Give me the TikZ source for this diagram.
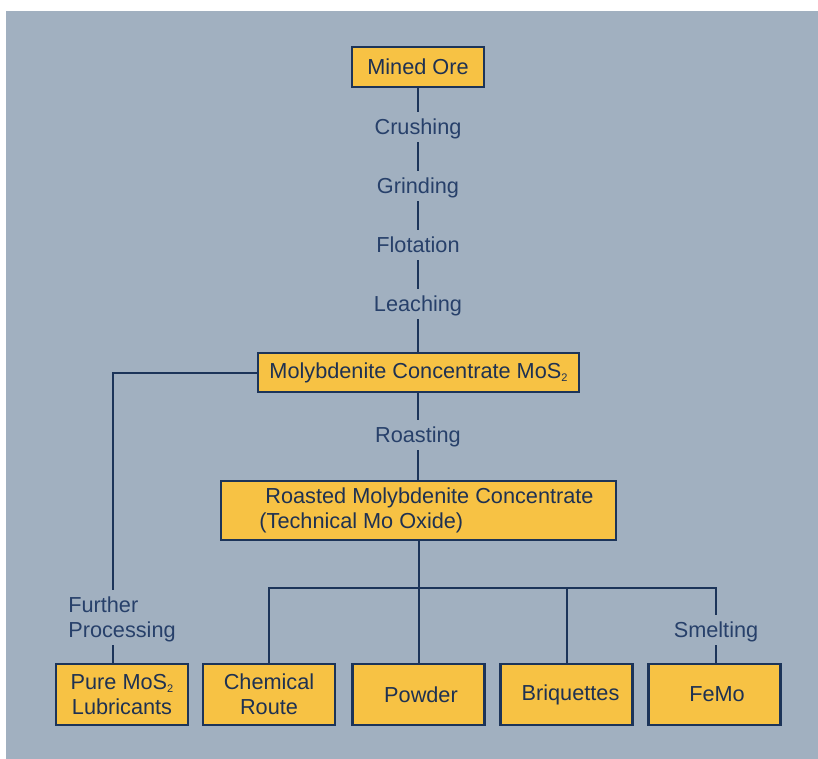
\documentclass[tikz,border=0pt]{standalone}
\usepackage{fontspec}
\setmainfont{Liberation Sans}
\definecolor{bgblue}{HTML}{A1B0C0}
\definecolor{boxyellow}{HTML}{F7C244}
\definecolor{navy}{HTML}{1C3459}
\definecolor{navytext}{HTML}{1E3152}
\definecolor{labtext}{HTML}{27406A}
\newcommand\dfont{\fontsize{21.7}{25}\selectfont}
\newcommand\subtwo{\raisebox{-3.5pt}{\fontsize{11}{11}\selectfont 2}}
\begin{document}
\begin{tikzpicture}[x=1pt,y=-1pt,
  box/.style={draw=navy, line width=2.2pt, fill=boxyellow, text=navytext, font=\dfont, inner sep=0pt, align=center},
  lab/.style={text=labtext, font=\dfont, inner xsep=2pt, inner ysep=5pt, text height=17.5pt, text depth=2.5pt},
  link/.style={draw=navy, line width=2pt}]
\useasboundingbox (0,0) rectangle (818,759);
\fill[bgblue] (6,11) rectangle (818,759);

% boxes
\node[box, minimum width=132pt, minimum height=40pt] (ore) at (418,67) {Mined Ore};
\node[box, minimum width=321pt, minimum height=39pt] (conc) at (418.5,372.5) {Molybdenite Concentrate MoS\subtwo};
\node[box, minimum width=395pt, minimum height=59pt, align=left] (roast) at (418.5,510.5)
  {\hspace*{22pt}Roasted Molybdenite Concentrate\\\hspace*{16pt}(Technical Mo Oxide)};
\node[box, minimum width=132pt, minimum height=61pt] (pure) at (122,694.5) {Pure MoS\subtwo\\Lubricants};
\node[box, minimum width=132pt, minimum height=61pt] (chem) at (269,694.5) {Chemical\\Route};
\node[box, minimum width=132pt, minimum height=61pt] (powder) at (418.5,694.5) {\hspace*{5pt}Powder};
\node[box, minimum width=132pt, minimum height=61pt] (briq) at (566.5,694.5) {\hspace*{8pt}Briquettes};
\node[box, minimum width=132pt, minimum height=61pt] (femo) at (714.5,694.5) {\hspace*{5pt}FeMo};

% step labels
\node[lab] (crush) at (418,127) {Crushing};
\node[lab] (grind) at (418,186) {Grinding};
\node[lab] (flot) at (418,245) {Flotation};
\node[lab] (leach) at (418,304) {Leaching};
\node[lab] (roasting) at (418,435) {Roasting};
\node[lab] (smelt) at (716,630) {Smelting};
\node[text=labtext, font=\dfont, align=left, inner sep=0pt] (further) at (122,619.5) {Further\\Processing};

% connectors
\coordinate (fpt) at (113,590);
\coordinate (fpb) at (113,645);
\coordinate (bus) at (418.5,588);

\draw[link] (ore.south) -- (crush.north);
\draw[link] (crush.south) -- (grind.north);
\draw[link] (grind.south) -- (flot.north);
\draw[link] (flot.south) -- (leach.north);
\draw[link] (leach.south) -- (conc.north -| leach.south);
\draw[link] (conc.south -| roasting.north) -- (roasting.north);
\draw[link] (roasting.south) -- (roast.north -| roasting.south);
\draw[link] (conc.west) -| (fpt);
\draw[link] (fpb) -- (fpb |- pure.north);
\draw[link] (roast.south) -- (powder.north);
\draw[link] (chem.north) |- (bus) -| (briq.north);
\draw[link] (bus) -| (smelt.north);
\draw[link] (smelt.south) -- (smelt.south |- femo.north);
\end{tikzpicture}
\end{document}
